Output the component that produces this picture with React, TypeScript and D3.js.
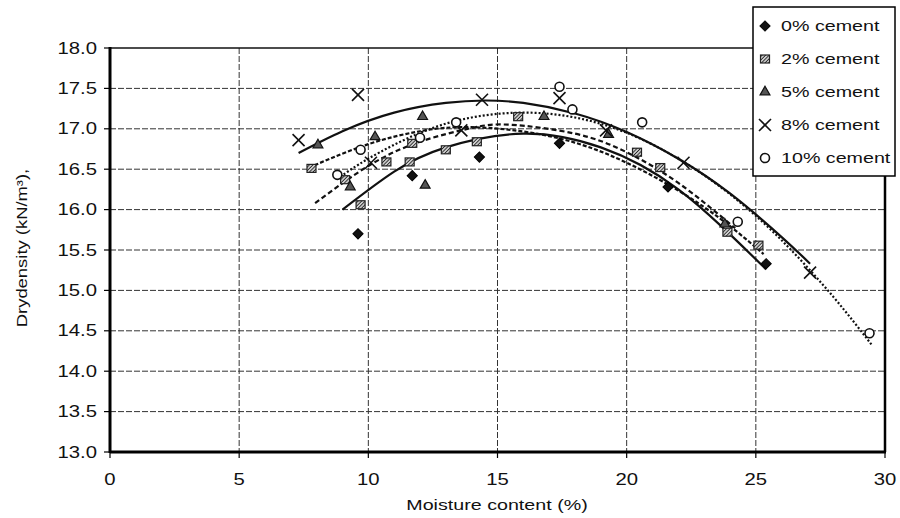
import React from 'react';
import * as d3 from 'd3';

// measured points: moisture content (%) and dry density (kN/m3)
const seriesNames = ['0% cement', '2% cement', '5% cement', '8% cement', '10% cement'];

const moist0 = [9.6, 11.7, 14.3, 17.4, 21.6, 25.4];
const dens0 = [15.7, 16.42, 16.65, 16.82, 16.28, 15.33];

const moist2 = [7.8, 9.1, 9.7, 10.7, 11.6, 11.7, 13.0, 14.2, 15.8, 20.4, 21.3, 23.9, 25.1];
const dens2 = [16.51, 16.37, 16.06, 16.59, 16.59, 16.82, 16.74, 16.84, 17.15, 16.71, 16.52, 15.72, 15.56];

const moist5 = [8.05, 9.3, 10.26, 12.1, 12.2, 16.8, 19.3, 23.8];
const dens5 = [16.8, 16.28, 16.9, 17.15, 16.3, 17.15, 16.93, 15.82];

const moist8 = [7.3, 9.6, 10.1, 13.6, 14.4, 17.4, 19.2, 22.2, 27.1];
const dens8 = [16.86, 17.42, 16.58, 16.98, 17.36, 17.38, 16.98, 16.58, 15.22];

const moist10 = [8.8, 9.7, 12.0, 13.4, 17.4, 17.9, 20.6, 24.3, 29.4];
const dens10 = [16.43, 16.74, 16.89, 17.08, 17.52, 17.24, 17.08, 15.85, 14.47];

// trend lines
const trendX0 = [9.0, 11, 13, 16, 19, 22, 25.4];
const trendY0 = [16.0, 16.47, 16.77, 16.94, 16.77, 16.25, 15.26];

const trendX2 = [7.7, 10, 12, 14, 17, 20, 23, 25.3];
const trendY2 = [16.52, 16.81, 16.97, 17.02, 16.91, 16.58, 16.03, 15.45];

const trendX5 = [7.94, 10, 12, 14, 15.5, 18, 20, 22, 24.2];
const trendY5 = [16.08, 16.54, 16.84, 17.01, 17.05, 16.94, 16.71, 16.33, 15.77];

const trendX8 = [7.3, 9, 11, 13, 14.5, 16, 18, 20, 22, 24, 26, 27.1];
const trendY8 = [16.7, 16.97, 17.2, 17.32, 17.35, 17.32, 17.19, 16.96, 16.63, 16.2, 15.66, 15.33];

const trendX10 = [8.8, 10, 12, 14, 16, 18, 20, 22, 24, 26, 28, 29.5];
const trendY10 = [16.38, 16.63, 16.95, 17.14, 17.2, 17.14, 16.95, 16.63, 16.19, 15.62, 14.92, 14.32];

const xTicks = [0, 5, 10, 15, 20, 25, 30];
const yTicks = [13.0, 13.5, 14.0, 14.5, 15.0, 15.5, 16.0, 16.5, 17.0, 17.5, 18.0];

const W = 900;
const H = 518;
const left = 110, right = 885, top = 48, bottom = 452;
const SX = 1.27; // the scan is stretched sideways
const font = 'Liberation Sans, Arial, sans-serif';

const x = d3.scaleLinear().domain([0, 30]).range([left, right]);
const y = d3.scaleLinear().domain([13, 18]).range([bottom, top]);

const groups = [
  { name: seriesNames[0], mx: moist0, dy: dens0, tx: trendX0, ty: trendY0, dash: null, marker: 'diamond' },
  { name: seriesNames[1], mx: moist2, dy: dens2, tx: trendX2, ty: trendY2, dash: '4,2', marker: 'hatch' },
  { name: seriesNames[2], mx: moist5, dy: dens5, tx: trendX5, ty: trendY5, dash: '5,3', marker: 'triangle' },
  { name: seriesNames[3], mx: moist8, dy: dens8, tx: trendX8, ty: trendY8, dash: null, marker: 'cross' },
  { name: seriesNames[4], mx: moist10, dy: dens10, tx: trendX10, ty: trendY10, dash: '2,2', marker: 'circle' },
];

const line = d3
  .line<[number, number]>()
  .x(d => x(d[0]))
  .y(d => y(d[1]))
  .curve(d3.curveNatural);

function Label({ px, py, anchor = 'middle', size = 16, rotate = 0, children }: any) {
  return (
    <text
      transform={`translate(${px},${py}) rotate(${rotate}) scale(${SX},1)`}
      textAnchor={anchor}
      dy="0.35em"
      fontSize={size}
      fontFamily={font}
      fill="#111"
    >
      {children}
    </text>
  );
}

function Marker({ type, cx, cy }: { type: string; cx: number; cy: number }) {
  if (type === 'diamond') {
    return <rect x={-3.6} y={-3.6} width={7.2} height={7.2} transform={`translate(${cx},${cy}) rotate(45)`} fill="#111" stroke="#000" />;
  }
  if (type === 'hatch') {
    return <rect x={cx - 4.5} y={cy - 4} width={9} height={8} fill="url(#hatch)" stroke="#222" strokeWidth={1.2} />;
  }
  if (type === 'triangle') {
    return <path d={d3.symbol(d3.symbolTriangle, 42)()!} transform={`translate(${cx},${cy})`} fill="#555" stroke="#111" strokeWidth={1.2} />;
  }
  if (type === 'cross') {
    return (
      <g stroke="#111" strokeWidth={1.6}>
        <line x1={cx - 6} y1={cy - 6} x2={cx + 6} y2={cy + 6} />
        <line x1={cx - 6} y1={cy + 6} x2={cx + 6} y2={cy - 6} />
      </g>
    );
  }
  return <circle cx={cx} cy={cy} r={4.5} fill="#fff" stroke="#111" strokeWidth={1.6} />;
}

export default function App() {
  return (
    <svg width={W} height={H} style={{ position: 'absolute', left: 0, top: 0, background: '#fff' }}>
      <defs>
        <pattern id="hatch" width={2.5} height={2.5} patternUnits="userSpaceOnUse" patternTransform="rotate(45)">
          <rect width={2.5} height={2.5} fill="#ccc" />
          <line x1={0} y1={0} x2={0} y2={2.5} stroke="#111" strokeWidth={1.5} />
        </pattern>
      </defs>

      {/* grid */}
      <g stroke="#333" strokeWidth={1} strokeDasharray="6,2">
        {yTicks.slice(1, -1).map(t => (
          <line key={'h' + t} x1={left} x2={right} y1={y(t)} y2={y(t)} />
        ))}
        {xTicks.slice(1, -1).map(t => (
          <line key={'v' + t} x1={x(t)} x2={x(t)} y1={top} y2={bottom} />
        ))}
      </g>

      {/* frame */}
      <line x1={left} x2={right} y1={top} y2={top} stroke="#111" strokeWidth={1.5} />
      <line x1={right} x2={right} y1={top} y2={bottom} stroke="#000" strokeWidth={2.5} />
      <line x1={left} x2={left} y1={top - 1} y2={bottom + 1} stroke="#000" strokeWidth={3} />
      <line x1={left} x2={right + 1} y1={bottom} y2={bottom} stroke="#000" strokeWidth={3} />

      {/* ticks and labels */}
      {yTicks.map(t => (
        <g key={'yt' + t}>
          <line x1={left - 6} x2={left} y1={y(t)} y2={y(t)} stroke="#000" strokeWidth={1.2} />
          <Label px={97} py={y(t)} anchor="end">{t.toFixed(1)}</Label>
        </g>
      ))}
      {xTicks.map(t => (
        <g key={'xt' + t}>
          <line x1={x(t)} x2={x(t)} y1={bottom} y2={bottom + 6} stroke="#000" strokeWidth={1.2} />
          <Label px={x(t)} py={479}>{t}</Label>
        </g>
      ))}
      <Label px={497} py={505} size={15.5}>Moisture content (%)</Label>
      <Label px={22} py={248} size={14.5} rotate={-90}>Drydensity  (kN/m³),</Label>

      {/* trend lines */}
      {groups.map(g => (
        <path
          key={'t' + g.name}
          d={line(g.tx.map((v, i) => [v, g.ty[i]] as [number, number]))!}
          fill="none"
          stroke="#111"
          strokeWidth={2.2}
          strokeDasharray={g.dash ?? undefined}
        />
      ))}

      {/* points */}
      {groups.map(g =>
        g.mx.map((v, i) => <Marker key={g.name + i} type={g.marker} cx={x(v)} cy={y(g.dy[i])} />)
      )}

      {/* legend */}
      <rect x={753} y={7} width={142} height={169} fill="#fff" stroke="#000" strokeWidth={1.5} />
      {groups.map((g, i) => (
        <g key={'lg' + g.name}>
          <Marker type={g.marker} cx={765} cy={26 + i * 33} />
          <Label px={781} py={26 + i * 33} anchor="start" size={15.5}>{g.name}</Label>
        </g>
      ))}
    </svg>
  );
}
